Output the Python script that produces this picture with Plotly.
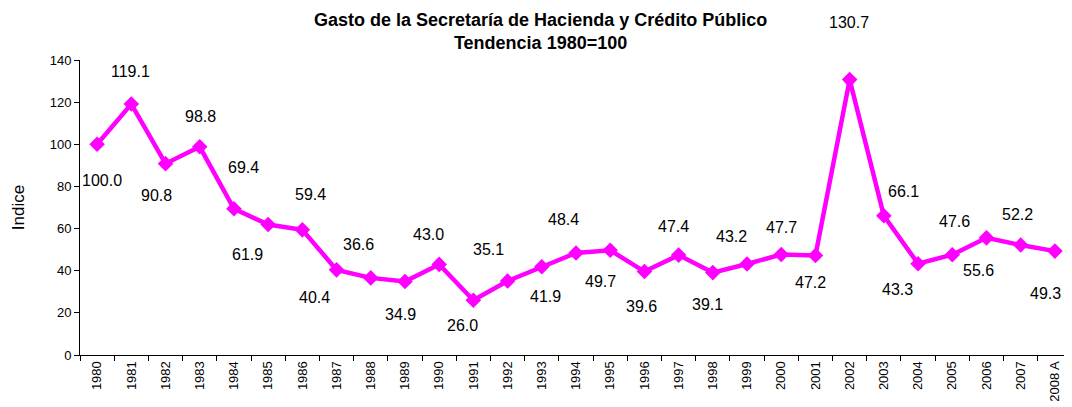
import plotly.graph_objects as go

# Datos: índice del gasto, 1980 = 100
years = ['1980', '1981', '1982', '1983', '1984', '1985', '1986', '1987', '1988', '1989',
         '1990', '1991', '1992', '1993', '1994', '1995', '1996', '1997', '1998', '1999',
         '2000', '2001', '2002', '2003', '2004', '2005', '2006', '2007', '2008 A']
values = [100.0, 119.1, 90.8, 98.8, 69.4, 61.9, 59.4, 40.4, 36.6, 34.9,
          43.0, 26.0, 35.1, 41.9, 48.4, 49.7, 39.6, 47.4, 39.1, 43.2,
          47.7, 47.2, 130.7, 66.1, 43.3, 47.6, 55.6, 52.2, 49.3]

# desplazamiento de cada etiqueta (px) respecto a su punto
label_dx = [5, -1, -9, 1, 10, -21, 8, -22, -12, -4, -11, -11, -19, 4, -13, -10, -3, -5, -5, -16,
            0, -5, -1, 20, -21, 2, -8, -3, -9]
label_dy = [-36, 33, -32, 30, 41, -30, 35, -28, 33, -33, 30, -25, 32, -30, 34, -31, -35, 29, -32, 27,
            27, -27, 57, 24, -26, 33, -33, 31, -42]

fig = go.Figure()
fig.add_trace(go.Scatter(
    x=years, y=values, mode='lines+markers',
    line=dict(color='#FF00FF', width=4.5),
    marker=dict(symbol='diamond', size=12, color='#FF00FF'),
    showlegend=False, hoverinfo='x+y'
))

# x como índice de categoría para que '1980' no se lea como número
for i, (v, dx, dy) in enumerate(zip(values, label_dx, label_dy)):
    fig.add_annotation(x=i, y=v, text=f'{v:.1f}', showarrow=False,
                       xshift=dx, yshift=dy,
                       font=dict(size=16, color='black', family='Liberation Sans, Arial'))

fig.add_annotation(text='<b>Gasto de la Secretaría de Hacienda y Crédito Público<br>Tendencia 1980=100</b>',
                   xref='paper', yref='paper', x=0.464, y=1.0, yshift=29,
                   xanchor='center', yanchor='middle', showarrow=False,
                   font=dict(size=18, color='black', family='Liberation Sans, Arial'))

# el body de la página añade 8px de margen, por eso 1064x399
fig.update_layout(
    width=1064, height=399,
    margin=dict(l=72, r=0, t=52, b=52),
    paper_bgcolor='white', plot_bgcolor='white',
    font=dict(family='Liberation Sans, Arial', color='black'),
    xaxis=dict(type='category', tickangle=-90, tickfont=dict(size=13), automargin=False,
               showline=True, linecolor='black', linewidth=1,
               ticks='outside', ticklen=5, tickcolor='black', tickson='boundaries',
               showgrid=False, zeroline=False, range=[-0.5, 28.5]),
    yaxis=dict(range=[0, 140], dtick=20, tickfont=dict(size=13), automargin=False,
               title=dict(text='Indice', font=dict(size=17), standoff=20),
               showline=True, linecolor='black', linewidth=1,
               ticks='outside', ticklen=5, tickcolor='black',
               showgrid=False, zeroline=False),
)

fig.write_html('out.html')
